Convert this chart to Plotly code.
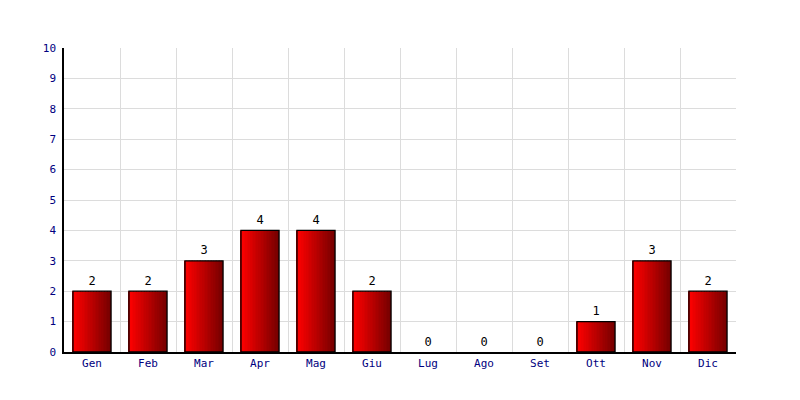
import plotly.graph_objects as go

months = ["Gen", "Feb", "Mar", "Apr", "Mag", "Giu", "Lug", "Ago", "Set", "Ott", "Nov", "Dic"]
values = [2, 2, 3, 4, 4, 2, 0, 0, 0, 1, 3, 2]
y_ticks = list(range(0, 11))

FONT = "DejaVu Sans Mono"
BAR_W = 0.68
N_SLICES = 24

fig = go.Figure()

# gradient slices
sw = BAR_W / N_SLICES
for i in range(N_SLICES):
    t = i / (N_SLICES - 1)
    r = int(round(255 - t * (255 - 120)))
    fig.add_trace(go.Bar(
        x=months, y=values,
        width=sw * 1.05,
        offset=-BAR_W / 2 + i * sw,
        marker=dict(color=f"rgb({r},0,0)", line=dict(width=0)),
        hoverinfo="skip", showlegend=False,
    ))

# outline
fig.add_trace(go.Bar(
    x=months, y=values,
    width=BAR_W,
    marker=dict(color="rgba(0,0,0,0)",
                line=dict(color="black", width=[1.3 if v > 0 else 0 for v in values])),
    showlegend=False,
))

# value labels
fig.add_trace(go.Scatter(
    x=months, y=values, mode="markers+text",
    marker=dict(size=4, color="rgba(0,0,0,0)"),
    text=[str(v) for v in values],
    textposition="top center",
    textfont=dict(family=FONT, size=12, color="#000000"),
    cliponaxis=False,
    showlegend=False, hoverinfo="skip",
))

fig.update_layout(
    width=800, height=400,
    margin=dict(l=56, r=72, t=40, b=56),
    paper_bgcolor="white", plot_bgcolor="white",
    barmode="overlay",
    font=dict(family=FONT, size=11, color="#000080"),
    xaxis=dict(
        type="category", tickson="boundaries",
        showgrid=True, gridcolor="#dcdcdc", gridwidth=1,
        showline=True, linecolor="black", linewidth=1.5,
        ticks="", ticklabelstandoff=0,
        tickfont=dict(family=FONT, size=11, color="#000080"),
        range=[-0.5, 11.5], mirror=False, zeroline=False,
    ),
    yaxis=dict(
        range=[0, 10], tickvals=y_ticks,
        showgrid=True, gridcolor="#dcdcdc", gridwidth=1,
        showline=True, linecolor="black", linewidth=1.5,
        ticks="", ticklabelstandoff=4,
        tickfont=dict(family=FONT, size=11, color="#000080"),
        zeroline=False,
    ),
)

fig.write_html("out.html")
